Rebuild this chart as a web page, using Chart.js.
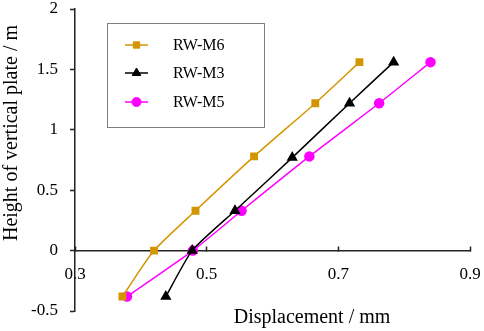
<!DOCTYPE html>
<html>
<head>
<meta charset="utf-8">
<script src="https://cdn.jsdelivr.net/npm/chart.js@4/dist/chart.umd.min.js"></script>
<style>
  html, body { margin: 0; padding: 0; background: #fff; }
  #wrap { width: 484px; height: 331px; position: relative; }
</style>
</head>
<body>
<div id="wrap"><canvas id="deplacement"></canvas></div>
<script>
// données
const hauteur_M6 = [-0.38, 0, 0.33, 0.78, 1.22, 1.56];
const depl_M6 = [0.372, 0.420, 0.483, 0.572, 0.665, 0.732];

const hauteur_M3 = [-0.38, 0, 0.33, 0.77, 1.22, 1.56];
const depl_M3 = [0.438, 0.478, 0.543, 0.630, 0.717, 0.784];

const hauteur_M5 = [-0.38, 0, 0.33, 0.78, 1.22, 1.56];
const depl_M5 = [0.379, 0.479, 0.553, 0.656, 0.762, 0.840];

const xTicks = [0.3, 0.5, 0.7, 0.9];
const yTicks = [-0.5, 0, 0.5, 1, 1.5, 2];

const police = "'Liberation Serif', 'Times New Roman', serif";

function points(xs, ys) {
    return xs.map((x, i) => ({ x: x, y: ys[i] }));
}

// titres des axes + légende encadrée, dessinés à la main
const decor = {
    id: 'decor',
    afterDraw(chart) {
        const ctx = chart.ctx;
        ctx.save();
        ctx.fillStyle = '#000';
        ctx.font = "20px " + police;
        ctx.textAlign = 'center';
        ctx.textBaseline = 'middle';
        ctx.fillText('Displacement / mm', 312, 318);
        ctx.translate(12, 133);
        ctx.rotate(-Math.PI / 2);
        ctx.fillText('Height of vertical plate / m', 0, 0);
        ctx.restore();

        // légende
        ctx.save();
        ctx.strokeStyle = '#7f7f7f';
        ctx.lineWidth = 1;
        ctx.strokeRect(107.5, 23.5, 157, 104);
        const lignesY = [45, 73, 102];
        chart.data.datasets.forEach((ds, i) => {
            const y = lignesY[i];
            ctx.strokeStyle = ds.borderColor;
            ctx.lineWidth = ds.borderWidth;
            ctx.beginPath();
            ctx.moveTo(125, y);
            ctx.lineTo(148, y);
            ctx.stroke();
            ctx.fillStyle = ds.borderColor;
            ctx.lineWidth = 1;
            Chart.helpers.drawPoint(ctx, {
                pointStyle: ds.pointStyle,
                radius: ds.pointRadius,
                rotation: 0,
                borderWidth: 1
            }, 136.5, y);
            ctx.fillStyle = '#000';
            ctx.font = "16px " + police;
            ctx.textAlign = 'left';
            ctx.textBaseline = 'middle';
            ctx.fillText(ds.label, 173, y + 1);
        });
        ctx.restore();
    }
};

const canvas = document.getElementById('deplacement');
const ctx_dep = canvas.getContext('2d');

new Chart(ctx_dep, {
    type: 'scatter',
    data: {
        datasets: [{
            label: 'RW-M6',
            data: points(depl_M6, hauteur_M6),
            borderColor: '#D39600',
            backgroundColor: '#D39600',
            pointStyle: 'rect',
            pointRadius: 4.5,
            borderWidth: 1.5,
            showLine: true,
            tension: 0.2
        }, {
            label: 'RW-M3',
            data: points(depl_M3, hauteur_M3),
            borderColor: '#000000',
            backgroundColor: '#000000',
            pointStyle: 'triangle',
            pointRadius: 5,
            borderWidth: 1.5,
            showLine: true,
            tension: 0.2
        }, {
            label: 'RW-M5',
            data: points(depl_M5, hauteur_M5),
            borderColor: '#FF00FF',
            backgroundColor: '#FF00FF',
            pointStyle: 'circle',
            pointRadius: 4.5,
            borderWidth: 1.5,
            showLine: true,
            tension: 0.2
        }]
    },
    options: {
        responsive: true,
        maintainAspectRatio: false,
        animation: false,
        layout: { padding: { top: 9, right: 14, bottom: 20, left: 0 } },
        plugins: {
            legend: { display: false },
            tooltip: { enabled: false }
        },
        scales: {
            x: {
                type: 'linear',
                min: 0.3,
                max: 0.9,
                position: { y: 0 },
                afterFit: s => { s.height = 0; s.paddingLeft = 0; s.paddingRight = 0; },
                afterBuildTicks: s => { s.ticks = xTicks.map(v => ({ value: v })); },
                grid: { drawOnChartArea: false, tickLength: -5, color: '#222', tickWidth: 1.5 },
                border: { color: '#222', width: 1.5 },
                ticks: {
                    color: '#000',
                    font: { family: police, size: 17 },
                    padding: 19,
                    maxRotation: 0,
                    callback: v => String(v)
                }
            },
            y: {
                min: -0.5,
                max: 2,
                afterFit: s => { s.width = 75; s.paddingTop = 0; s.paddingBottom = 0; },
                afterBuildTicks: s => { s.ticks = yTicks.map(v => ({ value: v })); },
                grid: { drawOnChartArea: false, tickLength: 5, color: '#222', tickWidth: 1.5 },
                border: { color: '#222', width: 1.5 },
                ticks: {
                    color: '#000',
                    font: { family: police, size: 17 },
                    padding: 12,
                    callback: v => String(v)
                }
            }
        }
    },
    plugins: [decor]
});
</script>
</body>
</html>
